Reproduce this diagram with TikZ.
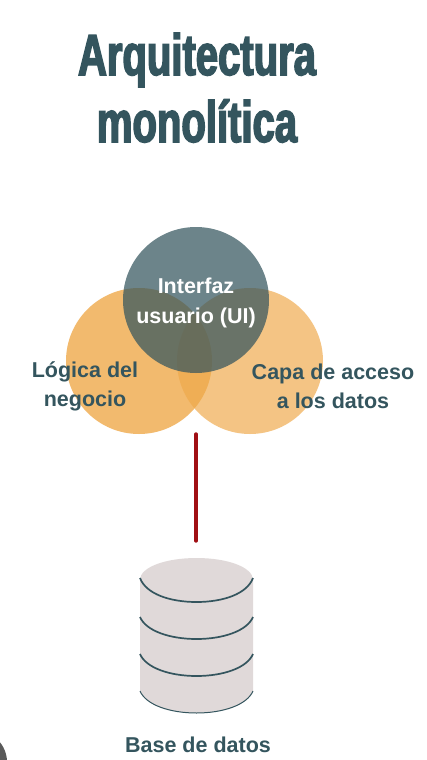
\documentclass[tikz,border=0pt]{standalone}
\usepackage{fontspec}
\setmainfont{Liberation Sans}
\newfontfamily\titlefont[FakeStretch=0.69,FakeBold=2.6]{Liberation Sans Bold}
\definecolor{slate}{HTML}{34555E}
\definecolor{orangeA}{HTML}{EFA94A}
\definecolor{dbfill}{HTML}{E0D9D9}
\definecolor{linkred}{HTML}{A00F14}
\definecolor{cornergray}{HTML}{5A5A5A}
\tikzset{
  titletext/.style={text=slate,font=\titlefont\fontsize{58}{58}\selectfont,inner sep=0pt,anchor=base},
  labeltext/.style={text=slate,font=\bfseries\fontsize{21.5}{29}\selectfont,align=center,inner sep=0pt},
  uitext/.style={text=white,font=\bfseries\fontsize{21.5}{30}\selectfont,align=center,inner sep=0pt},
  venn/.style={circle,minimum size=146pt,inner sep=0pt},
  dbring/.style={draw=slate,line width=1.7pt},
  link/.style={draw=linkred,line width=3.4pt,line cap=round}
}
\begin{document}
\begin{tikzpicture}[x=1pt,y=-1pt]
\useasboundingbox (0,0) rectangle (427,760);
\fill[white] (0,0) rectangle (427,760);
\fill[cornergray] (-24,762) circle (31);
\node[titletext] (t1) at (197,75) {Arquitectura};
\node[titletext] (t2) at (197,142) {monolítica};
\node[venn,fill=orangeA,fill opacity=.8] (vleft) at (139,361) {};
\node[venn,fill=orangeA,fill opacity=.68] (vright) at (250,361) {};
\node[venn,fill=slate,fill opacity=.72] (vtop) at (196,300) {};
\node[uitext] (ui) at (196,303) {Interfaz\\usuario (UI)};
\node[labeltext] (logic) at (85,386) {Lógica del\\negocio};
\node[labeltext] (access) at (333,386) {Capa de acceso\\a los datos};
\coordinate (linkA) at (196,434);
\coordinate (linkB) at (196,541);
\draw[link] (linkA) -- (linkB);
\fill[dbfill] (140,580) .. controls (140,567) and (166,558) .. (196.5,558) .. controls (227,558) and (253,567) .. (253,580)
  -- (253,691) .. controls (247,705) and (223,713) .. (196.5,713) .. controls (170,713) and (146,705) .. (140,691) -- cycle;
\draw[dbring] (140,578) .. controls (146,594) and (170,602) .. (196.5,602) .. controls (223,602) and (247,594) .. (253,578);
\draw[dbring] (140,617) .. controls (146,631) and (170,639) .. (196.5,639) .. controls (223,639) and (247,631) .. (253,617);
\draw[dbring] (140,654) .. controls (146,668) and (170,676) .. (196.5,676) .. controls (223,676) and (247,668) .. (253,654);
\draw[draw=slate,line width=1pt] (140,691) .. controls (146,705) and (170,713) .. (196.5,713) .. controls (223,713) and (247,705) .. (253,691);
\node[labeltext] (db) at (198,745) {Base de datos};
\end{tikzpicture}
\end{document}
